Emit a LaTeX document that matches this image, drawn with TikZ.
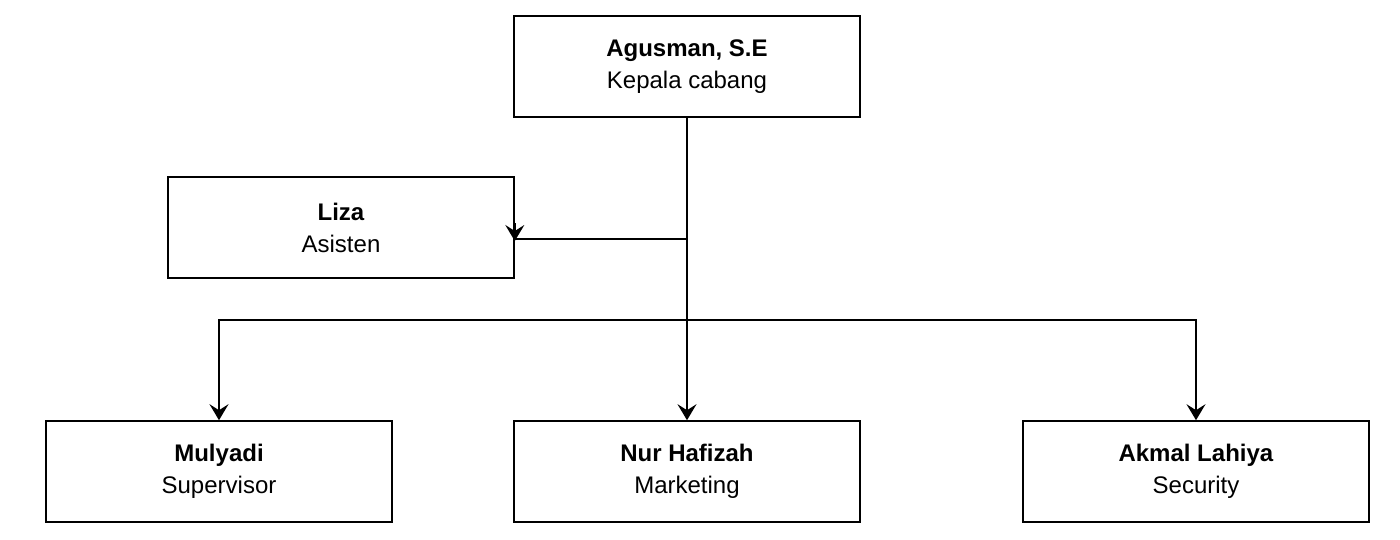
\documentclass[tikz,border=0pt]{standalone}
\usepackage{fontspec}
\setmainfont{Liberation Sans}
\usetikzlibrary{arrows.meta}
\begin{document}
\begin{tikzpicture}[x=1pt,y=-1pt,
  box/.style={draw=black,line width=1.6pt,rectangle,inner sep=0pt,
    minimum width=346pt,minimum height=101pt,align=center,
    font=\fontsize{24}{32}\selectfont},
  conn/.style={line width=1.6pt,draw=black},
  tip/.style={-{Stealth[length=16pt,width=19pt,inset=6pt]}}]
\useasboundingbox (0,0) rectangle (1400,539);
\node[box] (ag) at (687,66.5) {\textbf{Agusman, S.E}\\Kepala cabang};
\node[box] (liza) at (341,227.5) {\textbf{Liza}\\Asisten};
\node[box] (mul) at (219,471.5) {\textbf{Mulyadi}\\Supervisor};
\node[box] (nur) at (687,471.5) {\textbf{Nur Hafizah}\\Marketing};
\node[box] (akm) at (1196,471.5) {\textbf{Akmal Lahiya}\\Security};
\coordinate (bus) at (687,320);
\coordinate (lizain) at (687,239);
\draw[conn,tip] (ag.south) -- (nur.north);
\draw[conn] (lizain) -- (lizain -| liza.east);
\draw[conn,tip] ([yshift=16pt]lizain -| liza.east) -- ([yshift=-2pt]lizain -| liza.east);
\draw[conn,tip] (bus) -| (mul.north);
\draw[conn,tip] (bus) -| (akm.north);
\end{tikzpicture}
\end{document}
